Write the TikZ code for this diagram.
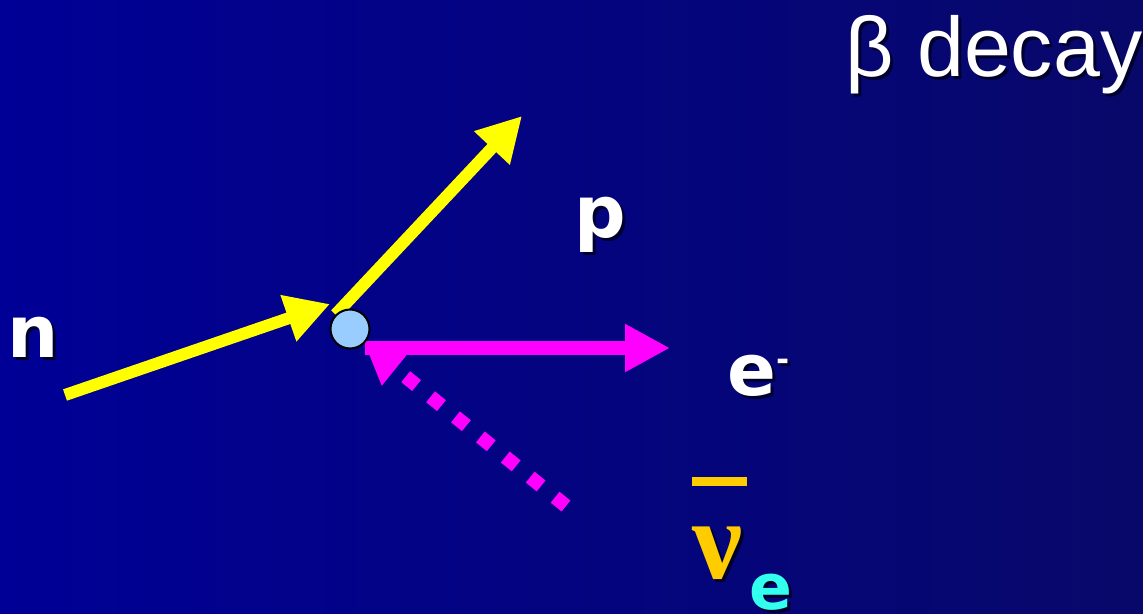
\documentclass[tikz,border=0pt]{standalone}
\usepackage{fontspec}
\usepackage{xcolor}
\usepackage{tikz}
\usetikzlibrary{arrows.meta, backgrounds}
\newfontfamily\labelfont{DejaVu Sans}
\newfontfamily\titlefont{Liberation Sans}
\newfontfamily\greekfont{Liberation Serif}
\definecolor{slidebgleft}{RGB}{0,0,150}
\definecolor{slidebgright}{RGB}{8,8,106}
\definecolor{arrowyellow}{RGB}{255,255,0}
\definecolor{arrowmagenta}{RGB}{255,0,255}
\definecolor{vertexfill}{RGB}{153,204,255}
\definecolor{nubar}{RGB}{255,204,0}
\definecolor{nusub}{RGB}{51,255,238}
\definecolor{shadowcol}{RGB}{0,0,45}
\newcommand{\dropshade}[1]{\makebox[0pt][l]{\hspace{0.06cm}\raisebox{-0.06cm}{\textcolor{shadowcol}{#1}}}#1}

\begin{document}
\begin{tikzpicture}[x=0.02cm, y=-0.02cm,
    particle/.style={text=white, inner sep=0pt, anchor=base west, font=\labelfont\bfseries\fontsize{41}{41}\selectfont},
    yarrow/.style={draw=arrowyellow, line width=0.24cm, -{Triangle[length=0.88cm, width=0.92cm]}},
    earrow/.style={draw=arrowmagenta, line width=0.28cm, -{Triangle[length=0.9cm, width=0.9cm]}},
    nuarrow/.style={draw=arrowmagenta, line width=0.28cm, dash pattern=on 0.28cm off 0.36cm, -{Triangle[length=0.8cm, width=0.82cm]}}]
    \useasboundingbox (0,0) rectangle (1143,613);

    % vertex
    \node[circle, draw=black, line width=0.04cm, fill=vertexfill, minimum size=0.78cm, inner sep=0pt] (v) at (350,329) {};

    \coordinate (nstart) at (65,395);
    \coordinate (ptip) at (522,116);
    \coordinate (etip) at (670,348);
    \coordinate (nustart) at (566,506);

    \begin{scope}[on background layer]
        \shade[left color=slidebgleft, right color=slidebgright] (0,0) rectangle (1143,613);
        \draw[yarrow] (nstart) -- ([shift={(-20,-25)}]v.center);
        \draw[yarrow] (v.north west) -- (ptip);
        \draw[earrow] ([shift={(15,19)}]v.center) -- (etip);
        \draw[nuarrow] (nustart) -- (v.south east);
    \end{scope}

    % labels
    \node[particle] (n) at (7,357) {\dropshade{n}};
    \node[particle] (p) at (574,237) {\dropshade{p}};
    \node[particle] (e) at (727,395) {\dropshade{e\raisebox{0.5cm}{\fontsize{18}{18}\selectfont -}}};
    \node[anchor=base west, inner sep=0pt, text=nubar, font=\greekfont\bfseries\fontsize{64}{64}\selectfont] (nu) at (692,578) {\dropshade{ν}};
    \node[anchor=base west, inner sep=0pt, text=nusub, font=\labelfont\bfseries\fontsize{36}{36}\selectfont] (nusubscript) at (749,609) {\dropshade{e}};
    \draw[nubar, line width=0.18cm] ([shift={(0,-97)}]nu.base west) -- ++(55,0);

    \node[anchor=base west, inner sep=0pt, text=white, font=\titlefont\fontsize{48}{48}\selectfont] (title) at (845,76) {\dropshade{β decay}};
\end{tikzpicture}
\end{document}
